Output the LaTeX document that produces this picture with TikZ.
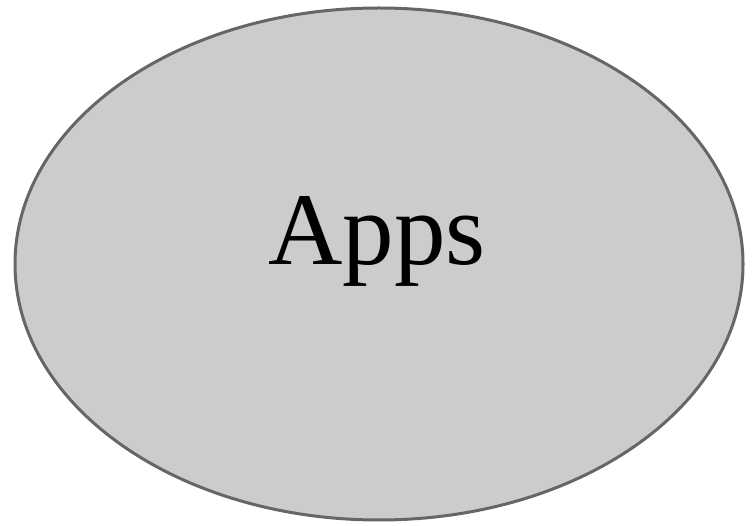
\documentclass[tikz,border=0pt]{standalone}
\usepackage{fontspec}
\setmainfont{Liberation Serif}
\definecolor{ellfill}{HTML}{CCCCCC}
\definecolor{ellline}{HTML}{666666}
\tikzset{appsell/.style={ellipse, draw=ellline, fill=ellfill, line width=3pt, minimum width=728pt, minimum height=512pt, inner sep=0pt, font=\fontsize{103}{110}\selectfont}}
\usetikzlibrary{shapes.geometric}
\begin{document}
\begin{tikzpicture}[x=1pt,y=1pt]
\useasboundingbox (0,0) rectangle (755,525);
\node[appsell] (apps) at (379,261) {};
\node[font=\fontsize{103}{110}\selectfont, anchor=base, inner sep=0pt] (label) at (377,260) {Apps};
\end{tikzpicture}
\end{document}
